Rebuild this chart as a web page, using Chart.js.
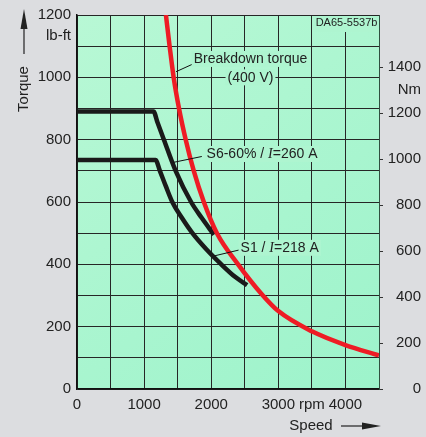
<!DOCTYPE html>
<html>
<head>
<meta charset="utf-8">
<script src="https://cdn.jsdelivr.net/npm/chart.js@4"></script>
<style>
  html, body { margin: 0; padding: 0; background: #dcdde0; }
  #wrap { width: 426px; height: 437px; }
</style>
</head>
<body>
<div id="wrap"><canvas id="torqueChart" width="426" height="437"></canvas></div>
<script>
// values (speed in rpm, torque in lb-ft)
const breakdownSpeed  = [1325, 1380, 1440, 1520, 1620, 1740, 1890, 2085, 2400, 2750, 3000, 3500, 4000, 4500];
const breakdownTorque = [1200, 1100, 1000, 900, 800, 700, 600, 500, 400, 305, 250, 185, 141, 108];
const s6Speed  = [0, 1140, 1200, 1295, 1470, 1700, 1855, 2040];
const s6Torque = [890, 890, 855, 800, 700, 600, 550, 495];
const s1Speed  = [0, 1170, 1235, 1325, 1420, 1560, 1720, 1920, 2150, 2360, 2535];
const s1Torque = [735, 735, 700, 650, 600, 550, 500, 450, 400, 359, 333];

const speedTicks = [0, 1000, 2000, 3000, 3500, 4000];
const speedTickLabels = ['0', '1000', '2000', '3000', 'rpm', '4000'];
const torqueTicks = [0, 200, 400, 600, 800, 1000, 1200];
const nmTicks = [0, 200, 400, 600, 800, 1000, 1200, 1400];

const lbftToNm = 1.3558;
const lbftUnitAt = 1134;   // where "lb-ft" sits on the left axis
const nmUnitAt = 1300;     // where "Nm" sits on the right axis

const FONT = '"Liberation Sans", Arial, sans-serif';
const TEXT = '#222';
const GRID = '#262626';

function toPoints(xs, ys) {
    return xs.map((x, i) => ({ x: x, y: ys[i] }));
}

function steps(from, to, step) {
    const out = [];
    for (let v = from; v <= to; v += step) out.push({ value: v });
    return out;
}

// text with a green box behind it, runs = [[text, italic], ...]
function boxedText(ctx, runs, cx, cy) {
    const fonts = runs.map(r => r[1] ? 'italic 14px "Liberation Serif", "Times New Roman", serif' : '14px ' + FONT);
    let w = 0;
    const widths = runs.map((r, i) => { ctx.font = fonts[i]; const m = ctx.measureText(r[0]).width; w += m; return m; });
    ctx.fillStyle = '#aef5d0';
    ctx.fillRect(cx - w / 2 - 2, cy - 8, w + 4, 16);
    let x = cx - w / 2;
    ctx.fillStyle = TEXT;
    ctx.textBaseline = 'middle';
    ctx.textAlign = 'left';
    runs.forEach((r, i) => {
        ctx.font = fonts[i];
        ctx.fillText(r[0], x, cy + 0.5);
        x += widths[i];
    });
}

const decorations = {
    id: 'decorations',
    beforeDraw(chart) {
        const { ctx, chartArea: a } = chart;
        const g = ctx.createLinearGradient(a.left, a.top, a.right, a.bottom);
        g.addColorStop(0, '#b8f8d5');
        g.addColorStop(1, '#9df3cb');
        ctx.save();
        ctx.fillStyle = g;
        ctx.fillRect(a.left, a.top, a.right - a.left, a.bottom - a.top);
        ctx.restore();
    },
    afterDatasetsDraw(chart) {
        const { ctx } = chart;
        const xs = chart.scales.x, ys = chart.scales.y;
        const px = v => xs.getPixelForValue(v);
        const py = v => ys.getPixelForValue(v);
        ctx.save();

        // leader lines
        ctx.strokeStyle = '#111';
        ctx.lineWidth = 1;
        [[1720, 1042, 1475, 1018], [1860, 746, 1434, 727], [2435, 447, 2045, 427]].forEach(l => {
            ctx.beginPath();
            ctx.moveTo(px(l[0]), py(l[1]));
            ctx.lineTo(px(l[2]), py(l[3]));
            ctx.stroke();
        });

        boxedText(ctx, [['Breakdown torque', false]], px(2585), py(1059));
        boxedText(ctx, [['(400 V)', false]], px(2585), py(1000));
        boxedText(ctx, [['S6-60% / ', false], ['I', true], ['=260 A', false]], px(2757), py(754));
        boxedText(ctx, [['S1 / ', false], ['I', true], ['=218 A', false]], px(3020), py(453));

        // drawing number in the top right cell
        ctx.font = '11px ' + FONT;
        const dw = ctx.measureText('DA65-5537b').width;
        ctx.fillStyle = '#aef5d0';
        ctx.fillRect(px(4016) - dw / 2 - 1, py(1200) + 1, dw + 2, 16);
        ctx.fillStyle = TEXT;
        ctx.textAlign = 'center';
        ctx.textBaseline = 'middle';
        ctx.fillText('DA65-5537b', px(4016), py(1174));
        ctx.restore();
    },
    afterDraw(chart) {
        const { ctx } = chart;
        ctx.save();
        ctx.fillStyle = TEXT;
        ctx.strokeStyle = TEXT;
        ctx.font = '15px ' + FONT;

        // axis titles with arrows
        ctx.save();
        ctx.translate(24, 89);
        ctx.rotate(-Math.PI / 2);
        ctx.textAlign = 'center';
        ctx.textBaseline = 'middle';
        ctx.fillText('Torque', 0, 0);
        ctx.restore();
        ctx.lineWidth = 1.2;
        ctx.beginPath(); ctx.moveTo(24, 54); ctx.lineTo(24, 26); ctx.stroke();
        ctx.beginPath(); ctx.moveTo(24, 9); ctx.lineTo(27.5, 29); ctx.lineTo(20.5, 29); ctx.closePath(); ctx.fill();

        ctx.textAlign = 'center';
        ctx.textBaseline = 'middle';
        ctx.fillText('Speed', 311, 426);
        ctx.beginPath(); ctx.moveTo(341, 426); ctx.lineTo(366, 426); ctx.stroke();
        ctx.beginPath(); ctx.moveTo(381, 426); ctx.lineTo(362, 422.5); ctx.lineTo(362, 429.5); ctx.closePath(); ctx.fill();
        ctx.restore();
    }
};

new Chart(document.getElementById('torqueChart'), {
    type: 'line',
    data: {
        datasets: [
            {
                label: 'Breakdown torque (400 V)',
                data: toPoints(breakdownSpeed, breakdownTorque),
                borderColor: '#ee1c25',
                borderWidth: 4.5,
                cubicInterpolationMode: 'monotone',
                pointRadius: 0
            },
            {
                label: 'S6-60% / I=260 A',
                data: toPoints(s6Speed, s6Torque),
                borderColor: '#1a1a1a',
                borderWidth: 4.5,
                cubicInterpolationMode: 'monotone',
                pointRadius: 0
            },
            {
                label: 'S1 / I=218 A',
                data: toPoints(s1Speed, s1Torque),
                borderColor: '#1a1a1a',
                borderWidth: 4.5,
                cubicInterpolationMode: 'monotone',
                pointRadius: 0
            }
        ]
    },
    options: {
        responsive: false,
        animation: false,
        layout: { padding: { top: 14, right: 5, left: 0, bottom: 0 } },
        plugins: { legend: { display: false }, tooltip: { enabled: false } },
        scales: {
            x: {
                type: 'linear',
                min: 0,
                max: 4500,
                afterBuildTicks: s => { s.ticks = steps(0, 4500, 500); },
                afterFit: s => { s.height = 48; },
                ticks: {
                    autoSkip: false,
                    maxRotation: 0,
                    padding: 7,
                    color: TEXT,
                    font: { family: FONT, size: 15 },
                    callback: v => { const i = speedTicks.indexOf(v); return i < 0 ? '' : speedTickLabels[i]; }
                },
                grid: { color: GRID, lineWidth: 1, drawTicks: false },
                border: { color: '#111', width: 1.5 }
            },
            y: {
                position: 'left',
                min: 0,
                max: 1200,
                afterBuildTicks: s => {
                    const t = steps(0, 1200, 100);
                    t.splice(12, 0, { value: lbftUnitAt });
                    s.ticks = t;
                },
                afterFit: s => { s.width = 77; },
                ticks: {
                    autoSkip: false,
                    padding: 6,
                    color: TEXT,
                    font: { family: FONT, size: 15 },
                    callback: v => v === lbftUnitAt ? 'lb-ft' : (torqueTicks.includes(v) ? String(v) : '')
                },
                grid: {
                    color: c => (c.tick && c.tick.value === lbftUnitAt) ? 'rgba(0,0,0,0)' : GRID,
                    lineWidth: 1,
                    drawTicks: false
                },
                border: { color: '#111', width: 1.5 }
            },
            y2: {
                position: 'right',
                min: 0,
                max: 1200 * lbftToNm,
                afterBuildTicks: s => {
                    const t = nmTicks.map(v => ({ value: v }));
                    t.splice(7, 0, { value: nmUnitAt });
                    s.ticks = t;
                },
                afterFit: s => { s.width = 42; },
                ticks: {
                    autoSkip: false,
                    crossAlign: 'far',
                    padding: 0,
                    color: TEXT,
                    font: { family: FONT, size: 15 },
                    callback: v => v === nmUnitAt ? 'Nm' : (nmTicks.includes(v) ? String(v) : '')
                },
                grid: {
                    drawOnChartArea: false,
                    drawTicks: true,
                    tickLength: 4,
                    color: c => (c.tick && c.tick.value === nmUnitAt) ? 'rgba(0,0,0,0)' : '#333'
                },
                border: { color: '#2f4f3f', width: 1 }
            }
        }
    },
    plugins: [decorations]
});
</script>
</body>
</html>
